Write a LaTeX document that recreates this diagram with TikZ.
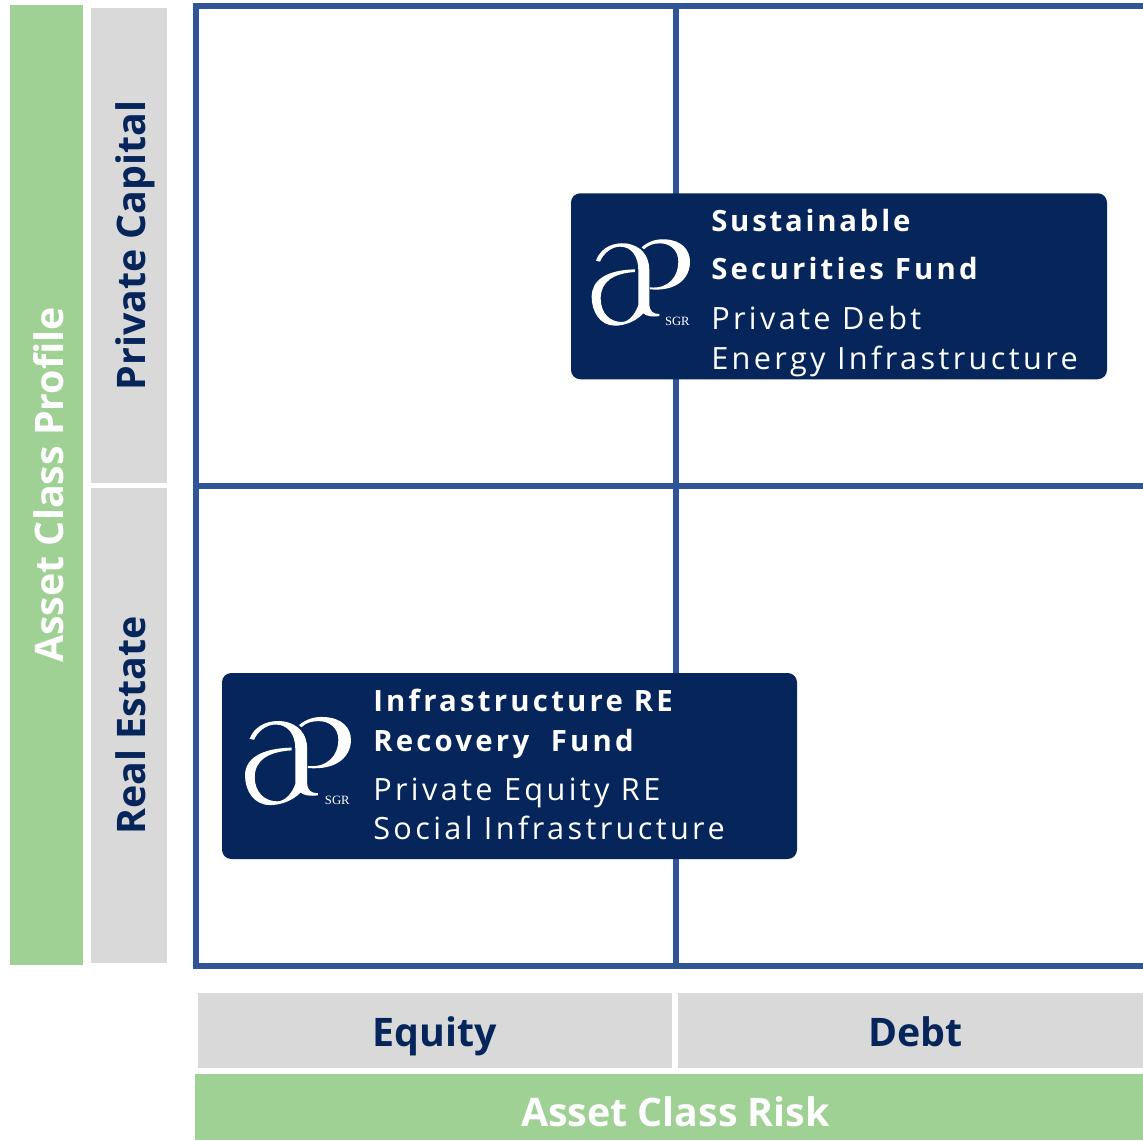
\documentclass[tikz,border=0pt]{standalone}
\usepackage{fontspec}
\setmainfont{Open Sans}
\newfontfamily\headfont[LetterSpace=11]{Open Sans Bold}
\newfontfamily\linefont[LetterSpace=11]{Open Sans}
\newfontfamily\logofont{Liberation Serif}
\definecolor{navy}{HTML}{06265B}
\definecolor{leaf}{HTML}{A0D194}
\definecolor{pale}{HTML}{D9D9D9}
\definecolor{gridblue}{HTML}{2F5597}

\tikzset{
  aplogo/.pic={
    \fill[white] (78,212) .. controls (95,165) and (140,158) .. (165,160)
      .. controls (215,165) and (238,200) .. (238,240) -- (238,340)
      .. controls (238,365) and (250,372) .. (268,372) -- (268,378)
      .. controls (245,382) and (228,378) .. (220,370)
      .. controls (195,397) and (160,407) .. (135,407)
      .. controls (90,407) and (65,365) .. (65,320)
      .. controls (65,270) and (110,240) .. (195,238) -- (195,246)
      .. controls (130,250) and (92,275) .. (92,325)
      .. controls (92,370) and (120,396) .. (155,396)
      .. controls (175,396) and (195,375) .. (205,345) -- (205,240)
      .. controls (205,200) and (185,170) .. (150,170)
      .. controls (125,170) and (100,190) .. (90,215) -- cycle;
    \fill[white] (215,172) .. controls (240,150) and (265,147) .. (285,148)
      .. controls (335,150) and (360,180) .. (360,215)
      .. controls (360,265) and (320,305) .. (240,298) -- (240,292)
      .. controls (295,298) and (325,260) .. (325,215)
      .. controls (325,180) and (300,160) .. (270,160)
      .. controls (250,160) and (235,165) .. (222,178) -- cycle;
    \node[white,inner sep=0,font=\logofont\fontsize{9.5}{11}\selectfont] (sgr) at (322,394) {SGR};
  }
}

\begin{document}
\begin{tikzpicture}[x=0.75pt,y=-0.75pt,
    greenbar/.style={fill=leaf,text=white,inner sep=0,text depth=0pt,font=\bfseries\fontsize{29.5}{35}\selectfont},
    greybar/.style={fill=pale,text=navy,inner sep=0,text depth=0pt,font=\bfseries\fontsize{29.5}{35}\selectfont},
    gridline/.style={draw=gridblue,line width=4.5pt},
    fund/.style={fill=navy,rounded corners=7pt,inner sep=0},
    fundhead/.style={text=white,inner sep=0,anchor=base west,font=\headfont\fontsize{22}{26}\selectfont},
    fundline/.style={text=white,inner sep=0,anchor=base west,font=\linefont\fontsize{23}{27}\selectfont}]
  \useasboundingbox (0,0) rectangle (1143,1140);
  % grid
  \coordinate (gridNW) at (195.5,5.5);
  \coordinate (gridN) at (675.5,5.5);
  \coordinate (gridNE) at (1143,5.5);
  \coordinate (gridW) at (195.5,485.5);
  \coordinate (gridE) at (1143,485.5);
  \coordinate (gridSW) at (195.5,965.5);
  \coordinate (gridS) at (675.5,965.5);
  \coordinate (gridSE) at (1143,965.5);
  \draw[gridline] (gridNE) -- (gridNW) -- (gridSW) -- (gridSE);
  \draw[gridline] (gridW) -- (gridE);
  \draw[gridline] (gridN) -- (gridS);
  % side and bottom bars
  \node[greenbar,text height=25pt,minimum width=720pt,minimum height=54.75pt,rotate=90] (profile) at (46.5,485) {Asset Class Profile};
  \node[greybar,text height=24.5pt,minimum width=356.25pt,minimum height=57pt,rotate=90] (capital) at (129,245.5) {Private Capital};
  \node[greybar,text height=24.5pt,minimum width=356.25pt,minimum height=57pt,rotate=90] (estate) at (129,725.5) {Real Estate};
  \node[greybar,text height=23.5pt,minimum width=355.5pt,minimum height=56.25pt] (equity) at (435,1030.5) {Equity};
  \node[greybar,text height=23.5pt,minimum width=356.25pt,minimum height=56.25pt] (debt) at (915.5,1030.5) {Debt};
  \node[greenbar,text height=28.5pt,minimum width=720.75pt,minimum height=49.5pt] (risk) at (675.5,1107) {Asset Class Risk};
  % funds
  \node[fund,minimum width=402pt,minimum height=139.5pt] (sustfund) at (839,286.25) {};
  \pic[scale=0.3333] at (570,190) {aplogo};
  \node[fundhead] (sust1) at (711,231) {\addfontfeature{LetterSpace=9.5}Sustainable};
  \node[fundhead] (sust2) at (711,279) {Securities Fund};
  \node[fundline] (sust3) at (711,329) {Private Debt};
  \node[fundline] (sust4) at (711,369) {Energy Infrastructure};
  \node[fund,minimum width=431.25pt,minimum height=139.5pt] (refund) at (509.5,766) {};
  \pic[xscale=0.359,yscale=0.34] at (221.7,666.7) {aplogo};
  \node[fundhead] (re1) at (373,711) {Infrastructure RE};
  \node[fundhead] (re2) at (373,751) {Recovery\ \ Fund};
  \node[fundline] (re3) at (373,800.5) {Private Equity RE};
  \node[fundline] (re4) at (373,839.5) {Social Infrastructure};
\end{tikzpicture}
\end{document}
